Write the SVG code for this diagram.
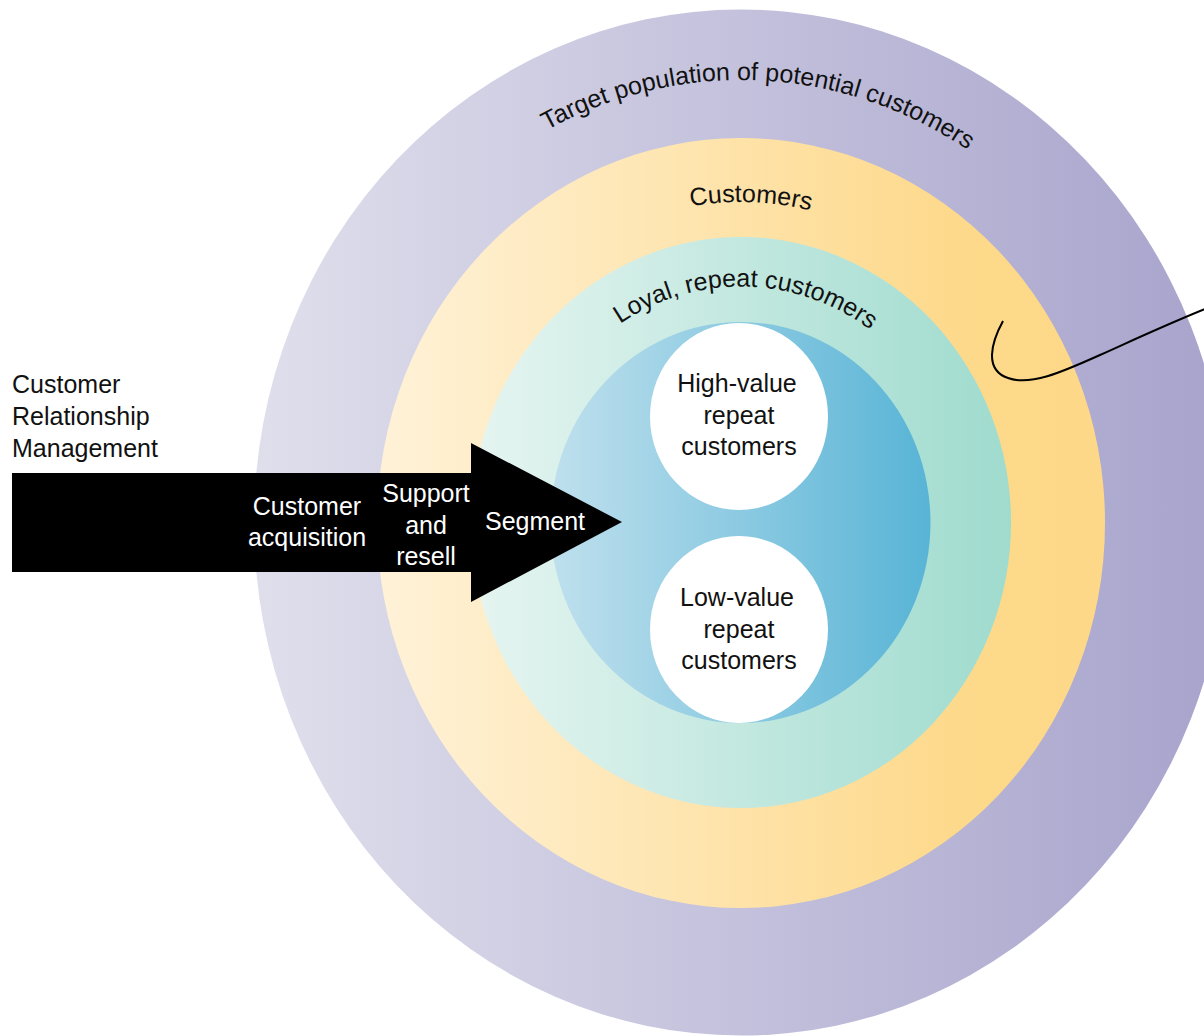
<svg xmlns="http://www.w3.org/2000/svg" width="1204" height="1036" viewBox="0 0 1204 1036">
<style>
  text { font-family: "Liberation Sans", Arial, sans-serif; font-size: 25px; }
  .dark { fill: #111111; }
  .light { fill: #ffffff; }
  .mid { text-anchor: middle; }
</style>
<defs>
  <linearGradient id="gPurple" x1="0" y1="0" x2="1" y2="0">
    <stop offset="0" stop-color="#dfdfec"/>
    <stop offset="1" stop-color="#a7a3cc"/>
  </linearGradient>
  <linearGradient id="gOrange" x1="0" y1="0" x2="1" y2="0">
    <stop offset="0" stop-color="#fff2d8"/>
    <stop offset="0.8" stop-color="#fdd98b"/>
    <stop offset="1" stop-color="#fdd888"/>
  </linearGradient>
  <linearGradient id="gTeal" x1="0" y1="0" x2="1" y2="0">
    <stop offset="0" stop-color="#e6f5f1"/>
    <stop offset="1" stop-color="#9fdbce"/>
  </linearGradient>
  <linearGradient id="gBlue" x1="0" y1="0" x2="1" y2="0">
    <stop offset="0" stop-color="#bfe0ed"/>
    <stop offset="1" stop-color="#58b4d6"/>
  </linearGradient>
  <path id="arcTarget" d="M321,522.5 A420,442.5 0 0 1 1161,522.5"/>
  <path id="arcCustomers" d="M437,522.5 A304,320.5 0 0 1 1045,522.5"/>
  <path id="arcLoyal" d="M517,522.5 A224,236 0 0 1 965,522.5"/>
</defs>
<rect width="1204" height="1036" fill="#ffffff"/>

<g id="target-population">
  <ellipse cx="741" cy="522.5" rx="487" ry="513" fill="url(#gPurple)"/>
  <text class="dark mid"><textPath href="#arcTarget" startOffset="51.4%">Target population of potential customers</textPath></text>
</g>

<g id="customers">
  <ellipse cx="741" cy="523" rx="364" ry="385" fill="url(#gOrange)"/>
  <text class="dark mid"><textPath href="#arcCustomers" startOffset="51%">Customers</textPath></text>
</g>

<g id="loyal-customers">
  <ellipse cx="741" cy="522.5" rx="270" ry="285.5" fill="url(#gTeal)"/>
  <text class="dark mid"><textPath href="#arcLoyal" startOffset="50.7%">Loyal, repeat customers</textPath></text>
</g>

<g id="repeat-segment">
  <ellipse cx="740.5" cy="522.5" rx="190" ry="200.5" fill="url(#gBlue)"/>
</g>

<g id="high-value">
  <ellipse cx="739" cy="416.5" rx="89" ry="93.5" fill="#ffffff"/>
  <text class="dark mid" x="737" y="392">High-value</text>
  <text class="dark mid" x="739" y="424">repeat</text>
  <text class="dark mid" x="739" y="455">customers</text>
</g>

<g id="low-value">
  <ellipse cx="739" cy="629.5" rx="89" ry="93.5" fill="#ffffff"/>
  <text class="dark mid" x="737" y="606">Low-value</text>
  <text class="dark mid" x="739" y="638">repeat</text>
  <text class="dark mid" x="739" y="669">customers</text>
</g>

<g id="crm-arrow">
  <polygon points="12,473 471,473 471,443 622,522 471,602 471,572 12,572" fill="#000000"/>
  <text class="light mid" x="307" y="515">Customer</text>
  <text class="light mid" x="307" y="546">acquisition</text>
  <text class="light mid" x="426" y="502">Support</text>
  <text class="light mid" x="426" y="534">and</text>
  <text class="light mid" x="426" y="565">resell</text>
  <text class="light mid" x="535" y="530">Segment</text>
</g>

<g id="crm-label">
  <text class="dark" x="12" y="393">Customer</text>
  <text class="dark" x="12" y="425">Relationship</text>
  <text class="dark" x="12" y="457">Management</text>
</g>

<g id="connectors">
  <path d="M1003,321 C991,343 984,370 1008,378 C1030,386 1060,373 1100,355 S1170,323 1210,307" fill="none" stroke="#000000" stroke-width="2"/>
</g>
</svg>
